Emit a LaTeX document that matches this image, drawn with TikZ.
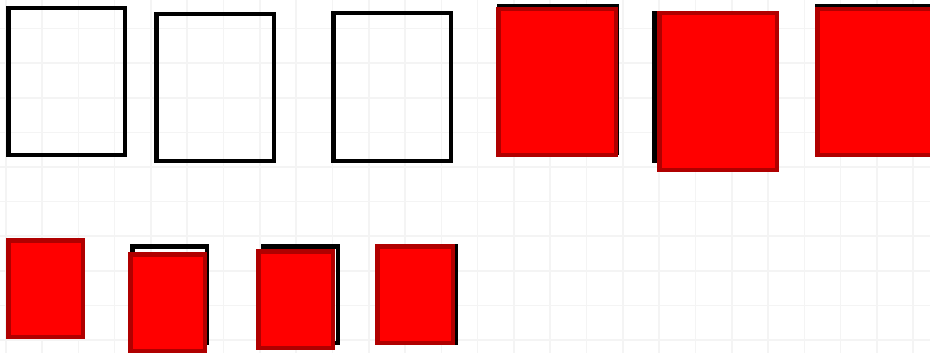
\documentclass[tikz,border=0pt]{standalone}
\usepackage{xcolor}
\usepackage{tikz}
\definecolor{CardRed}{HTML}{FF0000}
\definecolor{CardRedEdge}{HTML}{B00000}
\definecolor{GridFaint}{HTML}{F4F4F4}
\tikzset{
  gridline/.style={draw=GridFaint, line width=1.6pt},
  cardbase/.style={rectangle, anchor=north west, inner sep=0pt, outer sep=0pt,
                   line width=4.5pt},
  emptycard/.style={cardbase, draw=black},
  redcard/.style={cardbase, draw=CardRedEdge, fill=CardRed},
  bigcard/.style={minimum width=117.5pt, minimum height=146.5pt},
  smallcard/.style={minimum width=74.5pt, minimum height=96.5pt}
}
\begin{document}
\begin{tikzpicture}[x=1pt, y=-1pt]
  \useasboundingbox (0,0) rectangle (930,353);
  \clip (0,0) rectangle (930,353);
  \fill[white] (0,0) rectangle (930,353);

  % faint background grid
  \foreach \gx in {0,...,25}
    \draw[gridline] ({5.7+36.3*\gx},0) -- ({5.7+36.3*\gx},353);
  \foreach \gy in {0,...,10}
    \draw[gridline] (0,{-6+34.6*\gy}) -- (930,{-6+34.6*\gy});

  % top row
  \node[emptycard, bigcard, minimum width=116.5pt] (open1) at (8.25,8.25) {};
  \node[emptycard, bigcard]                        (open2) at (156.25,14.25) {};
  \node[emptycard, bigcard, minimum height=147.5pt] (open3) at (333.25,13.25) {};

  \node[emptycard, bigcard]                        (back4) at (499.25,6.25) {};
  \node[redcard, bigcard, minimum height=145.5pt]  (red4)  at (498.25,9.25) {};

  \node[emptycard, bigcard, minimum height=147.5pt] (back5) at (654.25,13.25) {};
  \node[redcard, bigcard, minimum height=156.5pt]  (red5)  at (659.25,13.25) {};

  \node[emptycard, bigcard]                        (back6) at (817.25,6.25) {};
  \node[redcard, bigcard, minimum height=145.5pt]  (red6)  at (817.25,9.25) {};

  % bottom row
  \node[redcard, smallcard]                        (red7)  at (8.25,240.25) {};

  \node[emptycard, smallcard]                      (back8) at (132.25,246.25) {};
  \node[redcard, smallcard]                        (red8)  at (130.25,254.25) {};

  \node[emptycard, smallcard]                      (back9) at (263.25,246.25) {};
  \node[redcard, smallcard]                        (red9)  at (258.25,251.25) {};

  \node[emptycard, smallcard, minimum width=75.5pt] (back10) at (380.25,246.25) {};
  \node[redcard, smallcard, minimum width=75.5pt]  (red10) at (377.25,246.25) {};
\end{tikzpicture}
\end{document}
